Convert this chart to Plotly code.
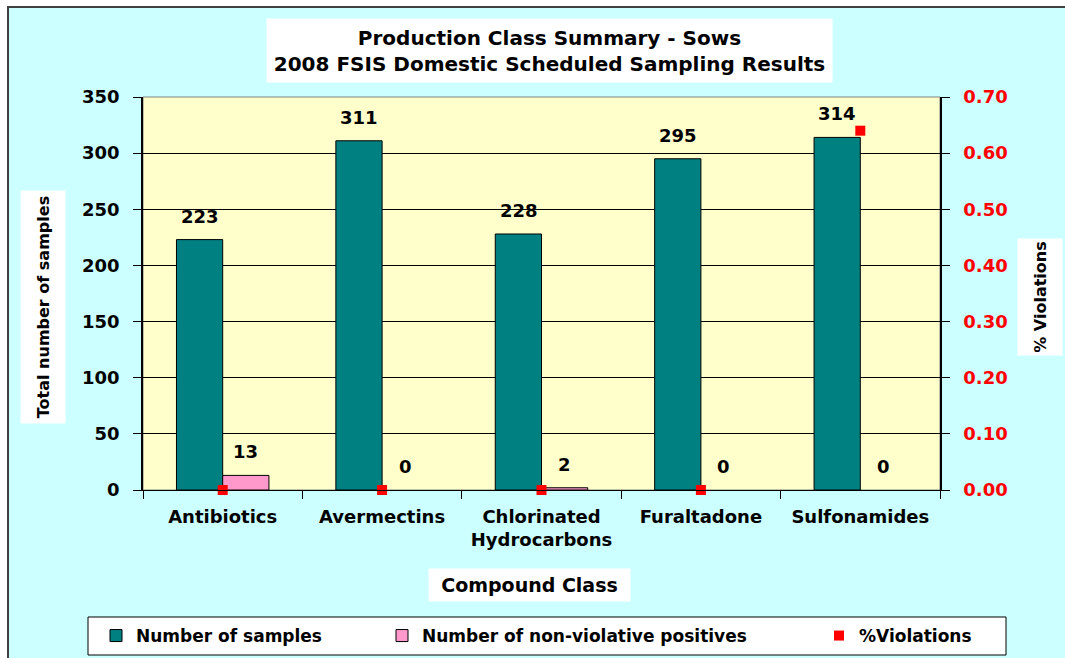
import plotly.graph_objects as go

# ---- data -------------------------------------------------------------
categories = ["Antibiotics", "Avermectins", "Chlorinated<br>Hydrocarbons",
              "Furaltadone", "Sulfonamides"]
samples = [223, 311, 228, 295, 314]
non_violative_positives = [13, 0, 2, 0, 0]
pct_violations = [0.0, 0.0, 0.0, 0.0, 0.64]

left_ticks = [0, 50, 100, 150, 200, 250, 300, 350]
right_ticks = [0.0, 0.1, 0.2, 0.3, 0.4, 0.5, 0.6, 0.7]

# ---- styling ----------------------------------------------------------
TEAL = "#008080"
PINK = "#FF99CC"
RED = "#FF0000"
CHART_BG = "#CCFFFF"
PLOT_BG = "#FFFFCC"
FONT = "DejaVu Sans"

W, H = 1065, 658
ML, MR, MT, MB = 143, 125, 97, 168
PW, PH = W - ML - MR, H - MT - MB


def px_x(px):
    """pixel column -> paper x"""
    return (px - ML) / PW


def px_y(py):
    """pixel row -> paper y"""
    return (MT + PH - py) / PH


def bold(size, color="black"):
    return dict(family=FONT, size=size, color=color, weight="bold")


fig = go.Figure()

fig.add_trace(go.Bar(
    x=categories, y=samples, name="Number of samples",
    marker=dict(color=TEAL, line=dict(color="black", width=1)),
    legend="legend", showlegend=True,
))
fig.add_trace(go.Bar(
    x=categories, y=non_violative_positives,
    name="Number of non-violative positives",
    # empty bars get no outline so nothing is drawn on the axis
    marker=dict(color=PINK, line=dict(
        color="black", width=[1 if v > 0 else 0 for v in non_violative_positives])),
    legend="legend2", showlegend=True,
))
fig.add_trace(go.Scatter(
    x=categories, y=pct_violations, name="%Violations", yaxis="y2",
    mode="markers", marker=dict(symbol="square", size=10, color=RED),
    cliponaxis=False, legend="legend3", showlegend=True,
))

# value labels above each bar
annotations = []
for cat, v in zip(categories, samples):
    annotations.append(dict(x=cat, y=v, xref="x", yref="y", text=str(v),
                            showarrow=False, xshift=-23, yshift=11,
                            yanchor="bottom", font=bold(18)))
for cat, v in zip(categories, non_violative_positives):
    annotations.append(dict(x=cat, y=v, xref="x", yref="y", text=str(v),
                            showarrow=False, xshift=23, yshift=11,
                            yanchor="bottom", font=bold(18)))

# title block
annotations.append(dict(
    x=px_x(549.5), y=px_y(50.5), xref="paper", yref="paper",
    xanchor="center", yanchor="middle", showarrow=False,
    text="Production Class Summary - Sows<br>2008 FSIS Domestic Scheduled Sampling Results",
    font=bold(20), bgcolor="white", width=557, height=55, borderpad=4,
))
# axis titles
annotations.append(dict(
    x=px_x(43), y=px_y(307), xref="paper", yref="paper",
    xanchor="center", yanchor="middle", showarrow=False, textangle=-90,
    text="Total number of samples", font=bold(16), bgcolor="white",
    width=226, height=38, borderpad=3,
))
annotations.append(dict(
    x=px_x(1040), y=px_y(297), xref="paper", yref="paper",
    xanchor="center", yanchor="middle", showarrow=False, textangle=-90,
    text="% Violations", font=bold(16), bgcolor="white",
    width=110, height=38, borderpad=3,
))
annotations.append(dict(
    x=px_x(529.5), y=px_y(585), xref="paper", yref="paper",
    xanchor="center", yanchor="middle", showarrow=False,
    text="Compound Class", font=bold(19), bgcolor="white",
    width=193, height=24, borderpad=4,
))

shapes = [
    # chart area with frame
    dict(type="rect", xref="paper", yref="paper", layer="below",
         x0=px_x(8), x1=px_x(1075), y0=px_y(670), y1=px_y(7),
         fillcolor=CHART_BG, line=dict(color="#404040", width=2)),
    # plot area
    dict(type="rect", xref="paper", yref="paper", layer="below",
         x0=0, x1=1, y0=0, y1=1,
         fillcolor=PLOT_BG, line=dict(color="#808080", width=1)),
    # legend box
    dict(type="rect", xref="paper", yref="paper", layer="below",
         x0=px_x(88), x1=px_x(1006), y0=px_y(655), y1=px_y(617),
         fillcolor="white", line=dict(color="black", width=1)),
]

legend_common = dict(orientation="h", xanchor="left", yanchor="middle",
                     y=px_y(636), bgcolor="rgba(0,0,0,0)", borderwidth=0,
                     font=bold(17))

fig.update_layout(
    width=W, height=H,
    margin=dict(l=ML, r=MR, t=MT, b=MB, autoexpand=False),
    paper_bgcolor="white", plot_bgcolor=PLOT_BG,
    font=dict(family=FONT, color="black"),
    showlegend=True,
    barmode="group", bargap=0.42, bargroupgap=0,
    xaxis=dict(
        type="category", tickson="boundaries", ticks="outside", ticklen=8,
        tickcolor="black", showline=True, linecolor="black", linewidth=1,
        showgrid=False, tickfont=bold(18), ticklabelstandoff=10,
    ),
    yaxis=dict(
        range=[0, 350], tickvals=left_ticks, ticks="outside", ticklen=8,
        tickcolor="black", showline=True, linecolor="black", linewidth=1.5,
        showgrid=True, gridcolor="black", gridwidth=1, zeroline=False,
        tickfont=bold(18), ticklabelstandoff=10,
    ),
    yaxis2=dict(
        range=[0, 0.7], tickvals=right_ticks, tickformat=".2f",
        overlaying="y", side="right", ticks="outside", ticklen=8,
        tickcolor="black", showline=True, linecolor="black", linewidth=1.5,
        showgrid=False, zeroline=False, tickfont=bold(18, RED),
        ticklabelstandoff=10,
    ),
    legend=dict(legend_common, x=px_x(96)),
    legend2=dict(legend_common, x=px_x(382)),
    legend3=dict(legend_common, x=px_x(819)),
    annotations=annotations,
    shapes=shapes,
)

fig.write_html("out.html")
